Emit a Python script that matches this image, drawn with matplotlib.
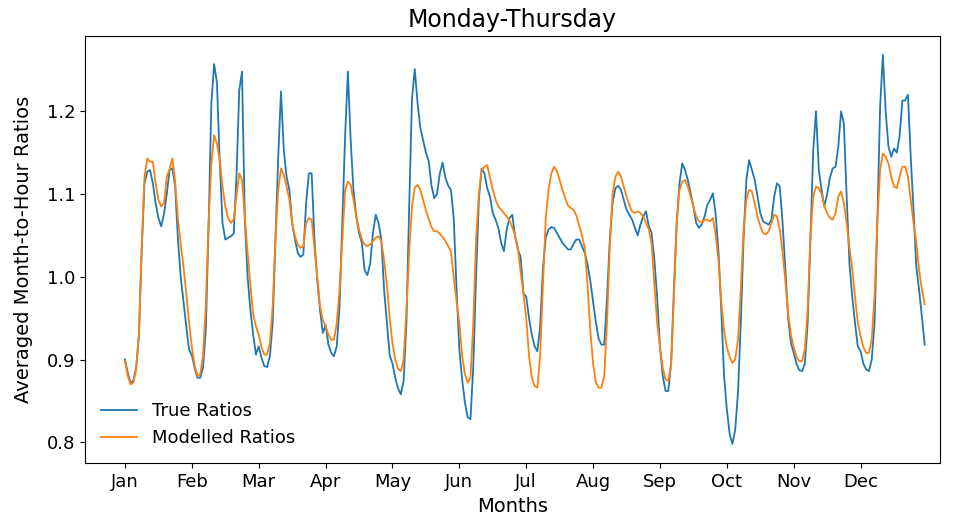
import numpy as np
import matplotlib
matplotlib.use("Agg")
import matplotlib.pyplot as plt

months = ["Jan", "Feb", "Mar", "Apr", "May", "Jun",
          "Jul", "Aug", "Sep", "Oct", "Nov", "Dec"]

# hourly ratios (24 values per month), Monday-Thursday
true_ratios = [
    # Jan
    0.900, 0.884, 0.872, 0.874, 0.890, 0.928, 1.032, 1.113, 1.127, 1.129, 1.113, 1.089,
    1.071, 1.061, 1.076, 1.100, 1.129, 1.131, 1.110, 1.045, 1.000, 0.970, 0.940, 0.912,
    # Feb
    0.905, 0.890, 0.878, 0.878, 0.890, 0.935, 1.060, 1.210, 1.257, 1.235, 1.140, 1.065,
    1.045, 1.047, 1.049, 1.052, 1.120, 1.225, 1.248, 1.070, 1.000, 0.960, 0.930, 0.906,
    # Mar
    0.916, 0.902, 0.892, 0.891, 0.904, 0.944, 1.045, 1.145, 1.224, 1.153, 1.121, 1.105,
    1.065, 1.045, 1.029, 1.024, 1.027, 1.089, 1.125, 1.125, 1.045, 0.996, 0.960, 0.932,
    # Apr
    0.942, 0.918, 0.908, 0.904, 0.916, 0.964, 1.065, 1.170, 1.248, 1.165, 1.105, 1.073,
    1.053, 1.041, 1.008, 1.002, 1.016, 1.053, 1.075, 1.065, 1.045, 0.984, 0.944, 0.905,
    # May
    0.895, 0.878, 0.865, 0.858, 0.874, 0.944, 1.085, 1.215, 1.251, 1.210, 1.180, 1.165,
    1.150, 1.140, 1.110, 1.095, 1.100, 1.125, 1.138, 1.120, 1.110, 1.105, 1.070, 0.985,
    # Jun
    0.912, 0.876, 0.848, 0.830, 0.828, 0.892, 1.000, 1.093, 1.131, 1.125, 1.107, 1.097,
    1.077, 1.069, 1.059, 1.041, 1.031, 1.057, 1.071, 1.075, 1.049, 1.033, 1.024, 0.980,
    # Jul
    0.976, 0.950, 0.930, 0.916, 0.910, 0.940, 1.010, 1.047, 1.057, 1.060, 1.059, 1.053,
    1.047, 1.041, 1.037, 1.033, 1.033, 1.040, 1.045, 1.045, 1.037, 1.029, 1.015, 0.995,
    # Aug
    0.970, 0.945, 0.925, 0.918, 0.918, 0.975, 1.045, 1.090, 1.107, 1.110, 1.105, 1.093,
    1.081, 1.075, 1.069, 1.059, 1.050, 1.063, 1.073, 1.079, 1.061, 1.053, 1.020, 0.975,
    # Sep
    0.915, 0.880, 0.862, 0.862, 0.896, 0.984, 1.065, 1.113, 1.137, 1.129, 1.117, 1.101,
    1.085, 1.065, 1.059, 1.063, 1.073, 1.087, 1.093, 1.101, 1.075, 1.030, 0.960, 0.880,
    # Oct
    0.840, 0.810, 0.798, 0.815, 0.860, 0.944, 1.045, 1.117, 1.141, 1.129, 1.117, 1.097,
    1.077, 1.067, 1.065, 1.063, 1.069, 1.097, 1.113, 1.109, 1.065, 1.010, 0.950, 0.920,
    # Nov
    0.908, 0.895, 0.887, 0.886, 0.895, 0.944, 1.045, 1.153, 1.200, 1.129, 1.105, 1.085,
    1.100, 1.120, 1.131, 1.133, 1.157, 1.200, 1.185, 1.097, 1.016, 0.976, 0.944, 0.916,
    # Dec
    0.910, 0.895, 0.888, 0.886, 0.900, 0.944, 1.065, 1.205, 1.268, 1.200, 1.157, 1.145,
    1.155, 1.150, 1.170, 1.213, 1.213, 1.220, 1.145, 1.081, 1.012, 0.984, 0.952, 0.918,
]

modelled_ratios = [
    # Jan
    0.898, 0.880, 0.870, 0.872, 0.888, 0.932, 1.036, 1.121, 1.143, 1.139, 1.139, 1.113,
    1.093, 1.085, 1.089, 1.121, 1.130, 1.143, 1.115, 1.070, 1.040, 1.012, 0.980, 0.945,
    # Feb
    0.915, 0.893, 0.880, 0.882, 0.904, 0.964, 1.065, 1.137, 1.171, 1.161, 1.141, 1.109,
    1.085, 1.071, 1.065, 1.069, 1.097, 1.125, 1.117, 1.073, 1.029, 0.990, 0.955, 0.940,
    # Mar
    0.930, 0.915, 0.906, 0.906, 0.920, 0.964, 1.045, 1.105, 1.131, 1.123, 1.109, 1.093,
    1.065, 1.049, 1.039, 1.035, 1.037, 1.065, 1.071, 1.069, 1.035, 1.000, 0.965, 0.948,
    # Apr
    0.940, 0.930, 0.924, 0.924, 0.944, 0.984, 1.045, 1.105, 1.115, 1.111, 1.093, 1.073,
    1.057, 1.045, 1.039, 1.037, 1.039, 1.043, 1.047, 1.049, 1.043, 1.020, 0.990, 0.950,
    # May
    0.920, 0.900, 0.889, 0.886, 0.900, 0.960, 1.030, 1.085, 1.108, 1.111, 1.105, 1.093,
    1.080, 1.070, 1.060, 1.055, 1.055, 1.052, 1.048, 1.043, 1.037, 1.030, 1.000, 0.970,
    # Jun
    0.944, 0.905, 0.882, 0.872, 0.878, 0.944, 1.045, 1.100, 1.129, 1.133, 1.135, 1.120,
    1.105, 1.093, 1.085, 1.081, 1.077, 1.073, 1.068, 1.060, 1.050, 1.035, 1.005, 0.980,
    # Jul
    0.950, 0.905, 0.878, 0.868, 0.866, 0.905, 0.990, 1.070, 1.105, 1.125, 1.133, 1.128,
    1.117, 1.105, 1.095, 1.086, 1.083, 1.081, 1.074, 1.062, 1.050, 1.035, 0.990, 0.935,
    # Aug
    0.895, 0.872, 0.866, 0.866, 0.880, 0.944, 1.037, 1.100, 1.121, 1.127, 1.121, 1.109,
    1.097, 1.087, 1.079, 1.077, 1.079, 1.077, 1.073, 1.065, 1.057, 1.040, 0.990, 0.945,
    # Sep
    0.915, 0.890, 0.876, 0.874, 0.893, 0.975, 1.065, 1.105, 1.115, 1.117, 1.109, 1.097,
    1.085, 1.073, 1.067, 1.065, 1.069, 1.069, 1.067, 1.071, 1.050, 1.020, 0.970, 0.935,
    # Oct
    0.915, 0.903, 0.896, 0.900, 0.924, 0.984, 1.057, 1.093, 1.105, 1.103, 1.089, 1.073,
    1.061, 1.053, 1.051, 1.055, 1.065, 1.075, 1.073, 1.057, 1.030, 0.995, 0.955, 0.930,
    # Nov
    0.915, 0.903, 0.898, 0.898, 0.912, 0.960, 1.050, 1.097, 1.109, 1.107, 1.100, 1.085,
    1.077, 1.071, 1.069, 1.077, 1.097, 1.103, 1.089, 1.065, 1.035, 1.010, 0.975, 0.945,
    # Dec
    0.928, 0.915, 0.908, 0.908, 0.924, 0.976, 1.065, 1.129, 1.149, 1.145, 1.137, 1.121,
    1.109, 1.107, 1.121, 1.133, 1.133, 1.121, 1.093, 1.065, 1.041, 1.008, 0.985, 0.967,
]

hours = np.arange(len(true_ratios))
month_starts = np.arange(len(months)) * 24

fig = plt.figure(figsize=(9.55, 5.23), dpi=100)
ax = fig.add_axes([0.089, 0.114, 0.895, 0.818])
ax.plot(hours, true_ratios, color="tab:blue", linewidth=1.3, label="True Ratios")
ax.plot(hours, modelled_ratios, color="tab:orange", linewidth=1.3, label="Modelled Ratios")

ax.set_xlim(-14.35, 292.4)
ax.set_xticks(month_starts)
ax.set_xticklabels(months)
ax.set_yticks([0.8, 0.9, 1.0, 1.1, 1.2])
ax.tick_params(labelsize=13)
ax.set_xlabel("Months", fontsize=14)
ax.set_ylabel("Averaged Month-to-Hour Ratios", fontsize=14, labelpad=10)
ax.set_title("Monday-Thursday", fontsize=17)
ax.legend(loc="lower left", frameon=False, fontsize=13)

fig.savefig("out.png", dpi=100)
